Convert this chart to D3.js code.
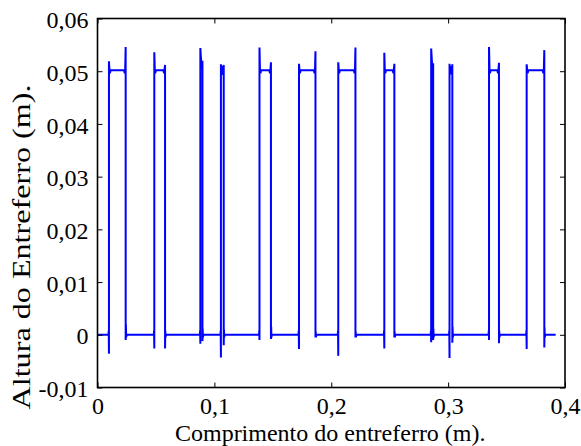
<!DOCTYPE html>
<html><head><meta charset="utf-8">
<script src="https://cdn.jsdelivr.net/npm/d3@7/dist/d3.min.js"></script>
<style>
body{margin:0;background:#fff;}
text{font-family:"Liberation Serif","Times New Roman",serif;fill:#000;}
</style></head>
<body><svg id="chart" width="581" height="446"></svg>
<script>
// ---- data ----
const xTicks = [0, 0.1, 0.2, 0.3, 0.4];
const xTickLabels = ["0", "0,1", "0,2", "0,3", "0,4"];
const yTicks = [-0.01, 0, 0.01, 0.02, 0.03, 0.04, 0.05, 0.06];
const yTickLabels = ["-0,01", "0", "0,01", "0,02", "0,03", "0,04", "0,05", "0,06"];

// rising / falling edge positions of each pulse (m)
const pulseStart = [0.0098, 0.0486, 0.0880, 0.1056, 0.1386, 0.1724, 0.2060, 0.2454, 0.2855, 0.3012, 0.3350, 0.3672];
const pulseEnd   = [0.0241, 0.0578, 0.0898, 0.1080, 0.1484, 0.1865, 0.2207, 0.2540, 0.2872, 0.3036, 0.3435, 0.3823];
// overshoot at the top of each edge
const startPeak  = [0.0519, 0.0536, 0.0544, 0.0513, 0.0545, 0.0514, 0.0517, 0.0535, 0.0543, 0.0514, 0.0546, 0.0513];
const endPeak    = [0.0546, 0.0512, 0.0520, 0.0512, 0.0517, 0.0538, 0.0545, 0.0514, 0.0515, 0.0513, 0.0516, 0.0540];
// undershoot at the bottom of each edge
const startDip   = [-0.0036, -0.0026, -0.0017, -0.0043, -0.0010, -0.0027, -0.0040, -0.0026, -0.0014, -0.0044, -0.0010, -0.0027];
const endDip     = [-0.0010, -0.0026, -0.0012, -0.0020, -0.0008, -0.0005, -0.0005, -0.0005, -0.0010, -0.0015, -0.0016, -0.0024];
// small ringing above zero after each falling edge
const endRing    = [0.0020, 0.0008, 0.0012, 0.0010, 0.0015, 0.0006, 0.0006, 0.0006, 0.0012, 0.0015, 0.0008, 0.0014];
const plateau = 0.050;
const signalEnd = 0.392;

// ---- layout ----
const svg = d3.select("#chart");
const L = 97.5, R = 565, T = 18.5, B = 387.5;
const x = d3.scaleLinear().domain([0, 0.4]).range([L, R]);
const y = d3.scaleLinear().domain([-0.01, 0.06]).range([B, T]);

// build the signal vertices from the pulse table
const pts = [[0, 0]];
const e = 0.0004;
pulseStart.forEach((xs, i) => {
  const xe = pulseEnd[i];
  const w = xe - xs;
  pts.push([xs - e, 0], [xs - e * 0.5, 0.0008], [xs, startDip[i]], [xs, startPeak[i]]);
  if (w > 0.005) {
    pts.push([xs + e, plateau + 0.0003], [xs + 2 * e, plateau - 0.0004], [xs + 3.5 * e, plateau + 0.0002],
             [xe - 3.5 * e, plateau + 0.0002], [xe - 2 * e, plateau - 0.0004], [xe - e, plateau + 0.0004]);
  } else {
    pts.push([xs + w * 0.3, startPeak[i] - 0.002], [xs + w * 0.5, plateau + 0.001], [xe - w * 0.3, endPeak[i] - 0.0015]);
  }
  pts.push([xe, endPeak[i]], [xe, endDip[i]], [xe + e * 0.5, endRing[i]], [xe + e, -0.0005], [xe + 2 * e, 0]);
});
pts.push([signalEnd, 0]);

const line = d3.line().x(d => x(d[0])).y(d => y(d[1]));
svg.append("path").datum(pts)
  .attr("d", line)
  .attr("fill", "none")
  .attr("stroke", "#0000ff")
  .attr("stroke-width", 2)
  .attr("stroke-linejoin", "miter");

// axes with inward ticks on all four sides
const tick = 5;
const gx = svg.append("g").attr("transform", `translate(0,${B})`)
  .call(d3.axisBottom(x).tickValues(xTicks).tickSizeInner(-tick).tickSizeOuter(0).tickPadding(8)
    .tickFormat((d, i) => xTickLabels[i]));
const gy = svg.append("g").attr("transform", `translate(${L},0)`)
  .call(d3.axisLeft(y).tickValues(yTicks).tickSizeInner(-tick).tickSizeOuter(0).tickPadding(9)
    .tickFormat((d, i) => yTickLabels[i]));
const gt = svg.append("g").attr("transform", `translate(0,${T})`)
  .call(d3.axisTop(x).tickValues(xTicks).tickSizeInner(-tick).tickSizeOuter(0).tickFormat(""));
const gr = svg.append("g").attr("transform", `translate(${R},0)`)
  .call(d3.axisRight(y).tickValues(yTicks).tickSizeInner(-tick).tickSizeOuter(0).tickFormat(""));
[gx, gy, gt, gr].forEach(g => {
  g.select(".domain").remove();
  g.selectAll(".tick line").attr("stroke", "#000").attr("stroke-width", 1);
  g.selectAll("text").attr("font-size", 24).attr("font-family", "Liberation Serif");
});
gx.selectAll("text").attr("dy", "0.78em");
gy.selectAll("text").attr("dy", "0.38em");

svg.append("rect").attr("x", L).attr("y", T).attr("width", R - L).attr("height", B - T)
  .attr("fill", "none").attr("stroke", "#000").attr("stroke-width", 1.6);

svg.append("text").attr("x", (L + R) / 2 - 1).attr("y", 441).attr("text-anchor", "middle")
  .attr("font-size", 24).text("Comprimento do entreferro (m).");
svg.append("text").attr("transform", `translate(30,247) rotate(-90)`)
  .attr("text-anchor", "middle").attr("font-size", 26)
  .attr("textLength", 325).attr("lengthAdjust", "spacingAndGlyphs")
  .text("Altura do Entreferro (m).");
</script></body></html>
